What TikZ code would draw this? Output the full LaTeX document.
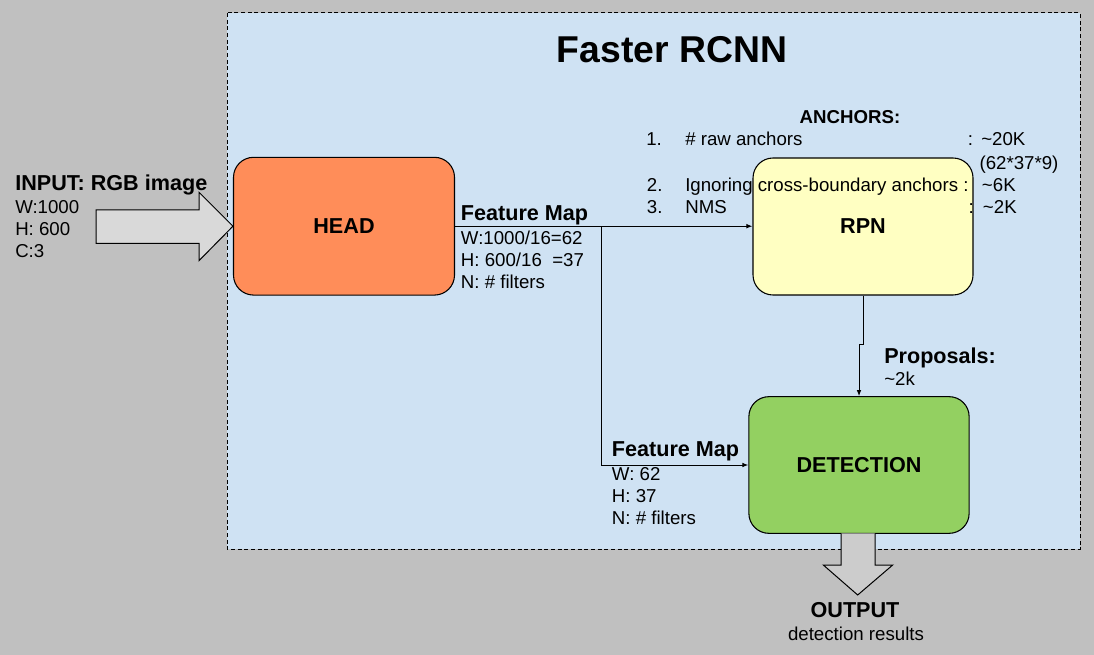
\documentclass[tikz,border=0pt]{standalone}
\usepackage{fontspec}
\setmainfont{Liberation Sans}
\usetikzlibrary{arrows.meta}
\definecolor{bggray}{RGB}{192,192,192}
\definecolor{panelblue}{RGB}{207,226,243}
\definecolor{headorange}{RGB}{255,141,89}
\definecolor{rpnyellow}{RGB}{255,255,194}
\definecolor{detgreen}{RGB}{147,208,97}
\definecolor{inarrow}{RGB}{217,217,217}
\definecolor{outarrow}{RGB}{204,204,204}
\tikzset{
  blockbox/.style={draw=black, line width=0.8pt, rounded corners=15pt,
    minimum width=165pt, minimum height=103pt, inner sep=0pt,
    font=\bfseries\fontsize{16.2}{19}\selectfont},
  reg/.style={anchor=base west, inner sep=0pt, font=\fontsize{14}{16}\selectfont},
  bld/.style={anchor=base west, inner sep=0pt, font=\bfseries\fontsize{16.2}{19}\selectfont},
  conn/.style={draw=black, line width=0.75pt, -{Latex[length=4.5pt,width=3.5pt]}},
  blockarrow/.style={draw=black, line width=0.75pt},
}
\begin{document}
\begin{tikzpicture}[x=0.75pt,y=-0.75pt]
\useasboundingbox (0,0) rectangle (1094,655);
\fill[bggray] (0,0) rectangle (1094,655);
% panel
\draw[fill=panelblue, line width=0.75pt, dash pattern=on 3pt off 2pt] (227,13) rectangle (1080,549);
\node[anchor=base, inner sep=0pt, font=\bfseries\fontsize{28}{32}\selectfont] (title) at (672,63) {Faster RCNN};

% boxes
\node[blockbox, fill=headorange, minimum width=165.75pt, minimum height=103.3pt] (head) at (344,226.2) {HEAD};
\node[blockbox, fill=rpnyellow, minimum width=165pt, minimum height=102.75pt] (rpn) at (863,226.5) {RPN};
\node[blockbox, fill=detgreen, minimum width=165.2pt, minimum height=102.5pt] (det) at (859,465) {DETECTION};

% input block arrow
\draw[blockarrow, fill=inarrow] (96,210) -- (199,210) -- (199,192.3) -- (head.west) -- (199,260.7) -- (199,243.3) -- (96,243.3) -- cycle;
% output block arrow
\draw[blockarrow, fill=outarrow] (841,533.3) -- (841,565) -- (823.3,565) -- (857.7,595) -- (892.7,565) -- (875,565) -- (875,533.3);

% connectors
\coordinate (split) at (601.7,226.2);
\draw[conn] (head.east) -- (rpn.west |- head.east);
\draw[conn] (split) |- (det.west);
\draw[conn] (rpn.south) -- ++(0,49) -| (det.north);

% input texts
\node[bld] (inTitle) at (15,190.7) {INPUT: RGB image};
\node[reg] (inW) at (15,214) {W:1000};
\node[reg] (inH) at (15,236) {H: 600};
\node[reg] (inC) at (15,257.7) {C:3};

% feature map 1
\node[bld] (fm1) at (460.7,221) {Feature Map};
\node[reg] (fm1W) at (460.7,244.3) {W:1000/16=62};
\node[reg] (fm1H) at (460.7,266.7) {H: 600/16\ \ =37};
\node[reg] (fm1N) at (460.7,289) {N: \# filters};

% feature map 2
\node[bld] (fm2) at (611.7,456.7) {Feature Map};
\node[reg] (fm2W) at (611.7,480) {W: 62};
\node[reg] (fm2H) at (611.7,502.3) {H: 37};
\node[reg] (fm2N) at (611.7,524.3) {N: \# filters};

% proposals
\node[bld] (prop) at (884,363.3) {Proposals:};
\node[reg] (propN) at (884,385.7) {\textasciitilde 2k};

% anchors
\node[anchor=base, inner sep=0pt, font=\bfseries\fontsize{14}{16}\selectfont] (anch) at (850,124) {ANCHORS:};
\node[reg] (a1n) at (646,146) {1.};
\node[reg] (a1t) at (685,146) {\# raw anchors};
\node[reg] (a1c) at (967.7,146) {:};
\node[reg] (a1v) at (981,146) {\textasciitilde 20K};
\node[reg] (a1x) at (979.3,170) {(62*37*9)};
\node[reg] (a2n) at (646.7,191.7) {2.};
\node[reg] (a2t) at (685,191.7) {Ignoring cross-boundary anchors :};
\node[reg] (a2v) at (981.7,191.7) {\textasciitilde 6K};
\node[reg] (a3n) at (646.7,213.3) {3.};
\node[reg] (a3t) at (685,213.3) {NMS};
\node[reg] (a3c) at (968.3,213.3) {:};
\node[reg] (a3v) at (982.7,213.3) {\textasciitilde 2K};

% output
\node[anchor=base, inner sep=0pt, font=\bfseries\fontsize{16.2}{19}\selectfont] (out) at (855,617.3) {OUTPUT};
\node[anchor=base, inner sep=0pt, font=\fontsize{14}{16}\selectfont] (outS) at (856,640) {detection results};
\end{tikzpicture}
\end{document}
